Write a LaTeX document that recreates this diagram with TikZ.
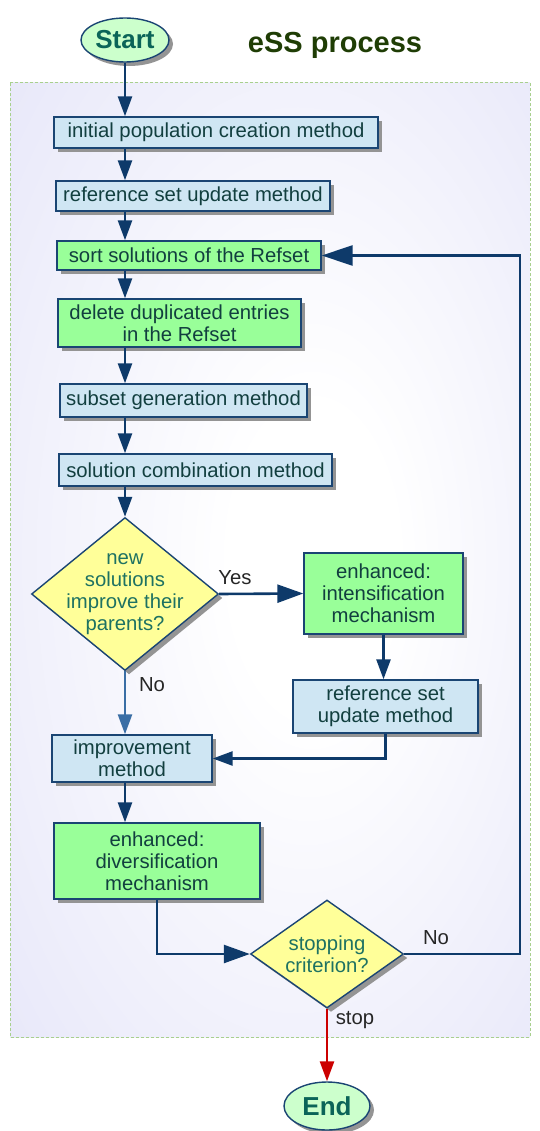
\documentclass[tikz,border=0pt]{standalone}
\usepackage{fontspec}
\setmainfont{Liberation Sans}
\usetikzlibrary{arrows.meta,shapes.geometric,shadows}

\definecolor{lav}{HTML}{E4E4F8}
\definecolor{panelrim}{HTML}{A8D08D}
\definecolor{navy}{HTML}{0E3A6A}
\definecolor{edge}{HTML}{1A4573}
\definecolor{noblue}{HTML}{3A6EA5}
\definecolor{stopred}{HTML}{CC0000}
\definecolor{boxblue}{HTML}{CFE6F3}
\definecolor{boxgreen}{HTML}{99FF99}
\definecolor{decyellow}{HTML}{FFFF99}
\definecolor{termgreen}{HTML}{CCFFCC}
\definecolor{boxtext}{HTML}{123F3F}
\definecolor{dectext}{HTML}{1E7262}
\definecolor{termtext}{HTML}{0B6458}
\definecolor{titlegreen}{HTML}{1F3D05}

\pgfdeclareradialshading{panelshade}{\pgfpoint{5bp}{0bp}}{%
  color(0bp)=(white); color(8bp)=(white); color(42bp)=(lav); color(50bp)=(lav)}

\tikzset{
  txt/.style={font=\fontsize{20.3}{22}\selectfont},
  shade4/.style={drop shadow={shadow xshift=4pt, shadow yshift=-4pt, fill=black!42, opacity=1}},
  procbox/.style={rectangle, draw=edge, line width=1.4pt, shade4, txt,
    text=boxtext, align=center, inner sep=0pt},
  bluebox/.style={procbox, fill=boxblue},
  greenbox/.style={procbox, fill=boxgreen},
  decision/.style={diamond, draw=edge, line width=1.4pt, fill=decyellow, shade4,
    inner sep=0pt},
  dectxt/.style={txt, text=dectext, align=center, inner sep=0pt},
  terminal/.style={ellipse, draw=edge, line width=1.4pt, fill=termgreen, shade4,
    font=\fontsize{26}{28}\selectfont\bfseries, text=termtext, inner sep=0pt},
  arr/.style={draw=navy, line width=2.6pt, -{Triangle[length=20pt,width=14pt]}},
  bigarr/.style={arr, -{Triangle[length=26pt,width=18pt]}},
  lbl/.style={txt, text=black!85, inner sep=0pt},
}

\begin{document}
\begin{tikzpicture}[x=1pt, y=-1pt]
  \useasboundingbox (0,0) rectangle (539,1131);

  % shaded panel holding the iterative part of the process
  \shade[shading=panelshade] (10,83) rectangle (530,1037);
  \draw[panelrim, line width=1pt, dash pattern=on 3pt off 2pt] (10,83) rectangle (530,1037);

  % title
  \node[font=\fontsize{29}{30}\selectfont\bfseries, text=titlegreen] (title) at (335,45) {eSS process};

  % terminals
  \node[terminal, minimum width=88pt, minimum height=44pt] (start) at (125,40) {Start};
  \node[terminal, minimum width=86pt, minimum height=48pt] (end) at (327,1106) {End};

  % process steps
  \node[bluebox,  minimum width=324pt, minimum height=31pt] (b1)  at (216,132.5) {initial population creation method};
  \node[bluebox,  minimum width=274pt, minimum height=30pt] (b2)  at (193,196) {reference set update method};
  \node[greenbox, minimum width=264pt, minimum height=29pt] (b3)  at (189,255.5) {sort solutions of the Refset};
  \node[greenbox, minimum width=243pt, minimum height=48pt] (b4)  at (179.5,323) {delete duplicated entries\\in the Refset};
  \node[bluebox,  minimum width=247pt, minimum height=33pt] (b5)  at (183.5,400.5) {subset generation method};
  \node[bluebox,  minimum width=273pt, minimum height=32pt] (b6)  at (195.5,470) {solution combination method};
  \node[greenbox, minimum width=159pt, minimum height=81pt] (b7)  at (383.5,593.5) {enhanced:\\intensification\\mechanism};
  \node[bluebox,  minimum width=185pt, minimum height=53pt] (b8)  at (385.5,706.5) {reference set\\update method};
  \node[bluebox,  minimum width=160pt, minimum height=47pt] (b9)  at (132,758.5) {improvement\\method};
  \node[greenbox, minimum width=206pt, minimum height=76pt] (b10) at (157,861) {enhanced:\\diversification\\mechanism};

  % decisions (text set as a centred label so it may run past the inscribed box)
  \node[decision, minimum width=187pt, minimum height=153pt,
        label={[dectxt]center:new\\solutions\\improve their\\parents?}] (d1) at (125,594) {};
  \node[decision, minimum width=153pt, minimum height=108pt,
        label={[dectxt]center:stopping\\criterion?}] (d2) at (327,954) {};

  % guide coordinates for the main spine and the return loop
  \coordinate (spine) at (125,0);
  \coordinate (loopr) at (520,0);

  % main flow
  \draw[arr] (start.south) -- (b1.north -| spine);
  \draw[arr] (b1.south -| spine) -- (b2.north -| spine);
  \draw[arr] (b2.south -| spine) -- (b3.north -| spine);
  \draw[arr] (b3.south -| spine) -- (b4.north -| spine);
  \draw[arr] (b4.south -| spine) -- (b5.north -| spine);
  \draw[arr] (b5.south -| spine) -- (b6.north -| spine);
  \draw[arr] (b6.south -| spine) -- (d1.north);

  % decision branches
  \draw[bigarr] (d1.east) -- (b7.west);
  \draw[arr, draw=noblue] (d1.south) -- (b9.north -| spine);
  \draw[arr] (b7.south) -- (b7.south |- b8.north);
  \draw[arr] (b8.south) |- (b9.east);
  \draw[arr] (b9.south -| spine) -- (b10.north -| spine);
  \draw[bigarr] (b10.south) |- (d2.west);
  \draw[arr, -{Triangle[length=31pt,width=20pt]}] (d2.east) -- (d2.east -| loopr) |- (b3.east);
  \draw[arr, draw=stopred] (d2.south) -- (end.north);

  % branch labels
  \node[lbl] (yes)  at (235,578)  {Yes};
  \node[lbl] (no1)  at (152,685)  {No};
  \node[lbl] (no2)  at (436,938)  {No};
  \node[lbl] (stop) at (355,1020) {stop};
\end{tikzpicture}
\end{document}
